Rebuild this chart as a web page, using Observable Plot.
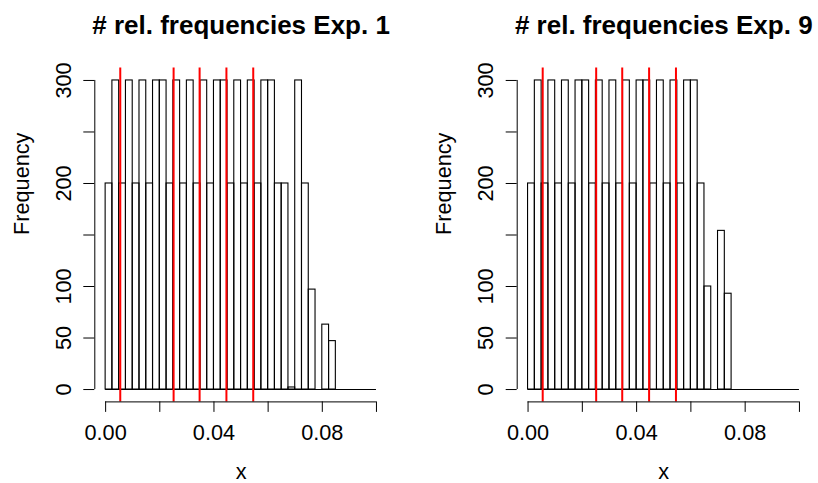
<!DOCTYPE html>
<html><head><meta charset="utf-8">
<script src="https://cdn.jsdelivr.net/npm/d3@7"></script>
<script src="https://cdn.jsdelivr.net/npm/@observablehq/plot@0.6"></script>
<style>
html,body{margin:0;padding:0;background:#fff;}
#chart{display:flex;width:818px;height:483px;overflow:hidden;}
#chart svg{flex:none;}
</style></head><body><div id="chart"></div>
<script>
const breaks = [0, 0.0025, 0.005, 0.0075, 0.01, 0.0125, 0.015, 0.0175, 0.02, 0.0225,
  0.025, 0.0275, 0.03, 0.0325, 0.035, 0.0375, 0.04, 0.0425, 0.045, 0.0475,
  0.05, 0.0525, 0.055, 0.0575, 0.06, 0.0625, 0.065, 0.0675, 0.07, 0.0725,
  0.075, 0.0775, 0.08, 0.0825, 0.085, 0.0875, 0.09, 0.0925, 0.095, 0.0975, 0.1];
const counts1 = [200,300,200,300,200,300,200,300,300,200,
  300,200,300,200,300,200,300,300,200,300,
  200,300,200,300,300,200,200,2,300,200,
  97,0,63,47,0,0,0,0,0,0];
const counts9 = [200,300,200,300,200,300,200,300,300,200,
  300,200,300,200,300,200,300,300,200,300,
  200,300,200,300,300,200,100,0,154,93,
  0,0,0,0,0,0,0,0,0,0];
const titles = ["# rel. frequencies Exp. 1", "# rel. frequencies Exp. 9"];
const redLines = [0.0054, 0.0251, 0.0347, 0.0446, 0.0545];
const xTicks = [0, 0.02, 0.04, 0.06, 0.08, 0.1];
const xTickLabels = ["0.00", "", "0.04", "", "0.08", ""];
const yTicks = [0, 50, 100, 150, 200, 250, 300];
const yTickLabels = ["0", "50", "100", "", "200", "", "300"];
const xDomain = [-0.004, 0.104];
const yDomain = [-12, 312];

const font = "'Liberation Sans', Arial, Helvetica, sans-serif";

function panel(title, counts, ml, mr) {
  const bins = counts.map((c, i) => ({x1: breaks[i], x2: breaks[i + 1], y: c}));
  const xLab = new Map(xTicks.map((t, i) => [t, xTickLabels[i]]));
  const yLab = new Map(yTicks.map((t, i) => [t, yTickLabels[i]]));
  return Plot.plot({
    width: 409, height: 483,
    marginLeft: ml, marginRight: mr, marginTop: 67.6, marginBottom: 81.6,
    x: {domain: xDomain},
    y: {domain: yDomain},
    style: {fontFamily: font, fontSize: "21.7px", background: "white", color: "black", overflow: "visible"},
    marks: [
      Plot.rect(bins.filter(d => d.y > 0), {x1: "x1", x2: "x2", y1: 0, y2: "y", fill: "none", stroke: "black", strokeWidth: 1.1}),
      Plot.ruleY([0], {x1: breaks[0], x2: breaks[breaks.length - 1], stroke: "black", strokeWidth: 1.1}),
      Plot.ruleX(redLines, {stroke: "#ff0000", strokeWidth: 2}),
      Plot.ruleY([yDomain[0]], {x1: xTicks[0], x2: xTicks[xTicks.length - 1], stroke: "black"}),
      Plot.ruleX([xDomain[0]], {y1: yTicks[0], y2: yTicks[yTicks.length - 1], stroke: "black"}),
      Plot.axisX({ticks: xTicks, tickFormat: d => xLab.get(d), tickSize: 10.5, tickPadding: 12.5, label: null, fontSize: 21.7}),
      Plot.axisY({ticks: yTicks, tickFormat: d => yLab.get(d), tickSize: 11, tickPadding: 13.3, tickRotate: -90, textAnchor: "middle", lineAnchor: "bottom", label: null, fontSize: 21.7}),
      Plot.text([title], {frameAnchor: "top", dy: -34.6, lineAnchor: "bottom", fontWeight: "bold", fontSize: 26}),
      Plot.text(["Frequency"], {frameAnchor: "left", dx: -66.3, rotate: -90, lineAnchor: "bottom", fontSize: 21.7}),
      Plot.text(["x"], {frameAnchor: "bottom", dy: 77, lineAnchor: "bottom", fontSize: 21.7})
    ]
  });
}

const chart = document.getElementById("chart");
chart.appendChild(panel(titles[0], counts1, 94.3, 22.2));
chart.appendChild(panel(titles[1], counts9, 107.7, 8.2));
</script>
</body></html>
